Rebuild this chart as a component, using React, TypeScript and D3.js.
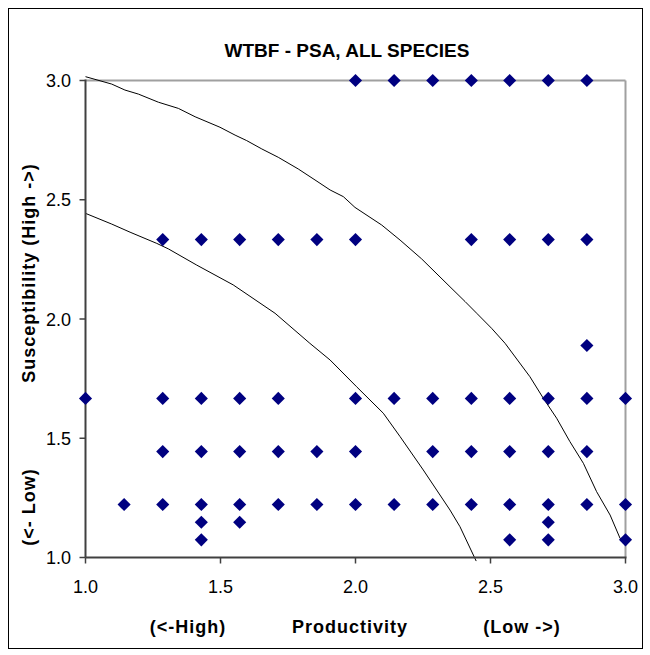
import React from "react";
import * as d3 from "d3";

// Scatter points (Productivity, Susceptibility)
const pointsProductivity = [
  2.0, 2.143, 2.286, 2.429, 2.571, 2.714, 2.857,
  1.286, 1.429, 1.571, 1.714, 1.857, 2.0, 2.429, 2.571, 2.714, 2.857,
  2.857,
  1.0, 1.286, 1.429, 1.571, 1.714, 2.0, 2.143, 2.286, 2.429, 2.571, 2.714, 2.857, 3.0,
  1.286, 1.429, 1.571, 1.714, 1.857, 2.0, 2.286, 2.429, 2.571, 2.714, 2.857,
  1.143, 1.286, 1.429, 1.571, 1.714, 1.857, 2.0, 2.143, 2.286, 2.429, 2.571, 2.714, 2.857, 3.0,
  1.429, 1.571, 2.714,
  1.429, 2.571, 2.714, 3.0,
];
const pointsSusceptibility = [
  3.0, 3.0, 3.0, 3.0, 3.0, 3.0, 3.0,
  2.333, 2.333, 2.333, 2.333, 2.333, 2.333, 2.333, 2.333, 2.333, 2.333,
  1.889,
  1.667, 1.667, 1.667, 1.667, 1.667, 1.667, 1.667, 1.667, 1.667, 1.667, 1.667, 1.667, 1.667,
  1.444, 1.444, 1.444, 1.444, 1.444, 1.444, 1.444, 1.444, 1.444, 1.444, 1.444,
  1.222, 1.222, 1.222, 1.222, 1.222, 1.222, 1.222, 1.222, 1.222, 1.222, 1.222, 1.222, 1.222, 1.222,
  1.148, 1.148, 1.148,
  1.074, 1.074, 1.074, 1.074,
];

// Upper vulnerability curve
const upperCurveX = [1.0, 1.097, 1.146, 1.196, 1.270, 1.344, 1.406, 1.498, 1.554, 1.597, 1.653, 1.714, 1.788, 1.850, 1.906, 1.955, 1.998, 2.097, 2.165, 2.245, 2.350, 2.406, 2.449, 2.504, 2.554, 2.646, 2.696, 2.745, 2.794, 2.844, 2.893, 2.943, 2.980, 3.0];
const upperCurveY = [3.016, 2.985, 2.960, 2.943, 2.909, 2.883, 2.848, 2.804, 2.771, 2.748, 2.713, 2.678, 2.629, 2.583, 2.541, 2.513, 2.468, 2.394, 2.331, 2.252, 2.135, 2.073, 2.024, 1.961, 1.898, 1.758, 1.667, 1.584, 1.486, 1.395, 1.276, 1.178, 1.080, 1.066];

// Lower vulnerability curve
const lowerCurveX = [1.0, 1.097, 1.165, 1.264, 1.307, 1.412, 1.547, 1.702, 1.831, 1.906, 2.004, 2.103, 2.165, 2.251, 2.350, 2.387, 2.447];
const lowerCurveY = [2.443, 2.398, 2.364, 2.317, 2.294, 2.226, 2.143, 2.024, 1.898, 1.828, 1.716, 1.605, 1.507, 1.367, 1.199, 1.129, 0.985];

const xTicks = [1.0, 1.5, 2.0, 2.5, 3.0];
const yTicks = [1.0, 1.5, 2.0, 2.5, 3.0];

const titleText = "WTBF - PSA, ALL SPECIES";
const xTitleLeft = "(<-High)";
const xTitleMid = "Productivity";
const xTitleRight = "(Low ->)";
const yTitleLow = "(<- Low)";
const yTitleHigh = "Susceptibility (High ->)";

const W = 650;
const H = 655;
const FONT = "'Liberation Sans', Arial, sans-serif";

export default function App() {
  const x = d3.scaleLinear().domain([1, 3]).range([85.5, 625.5]);
  const y = d3.scaleLinear().domain([1, 3]).range([557.5, 80.5]);

  const line = d3
    .line<[number, number]>()
    .x((d) => x(d[0]))
    .y((d) => y(d[1]));

  const upper = upperCurveX.map((v, i) => [v, upperCurveY[i]] as [number, number]);
  const lower = lowerCurveX.map((v, i) => [v, lowerCurveY[i]] as [number, number]);

  const diamond = d3.symbol().type(d3.symbolSquare).size(86)();

  const [x0, x1] = x.range();
  const [y0, y1] = y.range();

  return (
    <svg
      width={W}
      height={H}
      style={{ position: "absolute", left: 0, top: 0, background: "#fff" }}
      fontFamily={FONT}
    >
      <rect x={8.5} y={8.5} width={634} height={640} fill="#fff" stroke="#000" strokeWidth={1} />

      <text x={347} y={57} textAnchor="middle" fontSize={19} fontWeight="bold" fill="#000">
        {titleText}
      </text>

      {/* plot frame: top and right in gray */}
      <line x1={x0} x2={x1} y1={y1} y2={y1} stroke="#a0a0a0" strokeWidth={2} />
      <line x1={x1} x2={x1} y1={y1} y2={y0} stroke="#a0a0a0" strokeWidth={2} />

      {/* curves */}
      <path d={line(upper) || ""} fill="none" stroke="#000" strokeWidth={1} />
      <path d={line(lower) || ""} fill="none" stroke="#000" strokeWidth={1} />

      {/* axes */}
      <line x1={x0} x2={x1 + 1} y1={y0} y2={y0} stroke="#404040" strokeWidth={2} />
      <line x1={x0} x2={x0} y1={y1 - 1} y2={y0} stroke="#404040" strokeWidth={2} />
      {xTicks.map((t) => (
        <g key={"xt" + t}>
          <line x1={x(t)} x2={x(t)} y1={y0} y2={y0 + 6} stroke="#404040" strokeWidth={1.5} />
          <text x={x(t)} y={593} textAnchor="middle" fontSize={18} fill="#000">
            {t.toFixed(1)}
          </text>
        </g>
      ))}
      {yTicks.map((t) => (
        <g key={"yt" + t}>
          <line x1={x0 - 6} x2={x0} y1={y(t)} y2={y(t)} stroke="#404040" strokeWidth={1.5} />
          <text x={71} y={y(t) + 6.5} textAnchor="end" fontSize={18} fill="#000">
            {t.toFixed(1)}
          </text>
        </g>
      ))}

      {/* points */}
      {pointsProductivity.map((p, i) => (
        <path
          key={"p" + i}
          d={diamond || ""}
          transform={`translate(${x(p)},${y(pointsSusceptibility[i])}) rotate(45)`}
          fill="#000080"
        />
      ))}

      {/* axis titles */}
      <g fontSize={18} fontWeight="bold" fill="#000" letterSpacing={1}>
        <text x={188} y={633} textAnchor="middle">{xTitleLeft}</text>
        <text x={350} y={633} textAnchor="middle">{xTitleMid}</text>
        <text x={522} y={633} textAnchor="middle">{xTitleRight}</text>
        <text transform={`translate(35,507) rotate(-90)`} textAnchor="middle">{yTitleLow}</text>
        <text transform={`translate(35,273) rotate(-90)`} textAnchor="middle">{yTitleHigh}</text>
      </g>
    </svg>
  );
}
